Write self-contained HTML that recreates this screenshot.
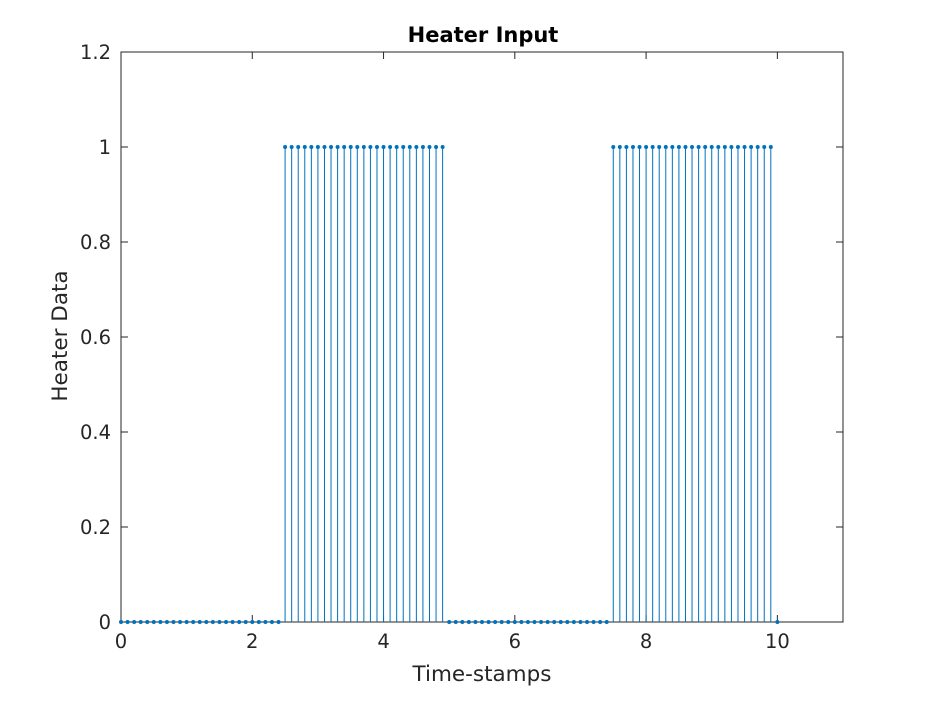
<!DOCTYPE html>
<html><head><meta charset="utf-8"><style>
body{margin:0;background:#fff;font-family:"Liberation Sans","DejaVu Sans",sans-serif}
svg text{font-family:"DejaVu Sans","Liberation Sans",sans-serif;fill:#262626}
</style></head><body>
<svg id="c" width="933" height="700"></svg>
<script>
const xStart=0, xStep=0.1;
const heaterValues=[0,0,0,0,0,0,0,0,0,0,0,0,0,0,0,0,0,0,0,0,0,0,0,0,0,
1,1,1,1,1,1,1,1,1,1,1,1,1,1,1,1,1,1,1,1,1,1,1,1,1,
0,0,0,0,0,0,0,0,0,0,0,0,0,0,0,0,0,0,0,0,0,0,0,0,0,
1,1,1,1,1,1,1,1,1,1,1,1,1,1,1,1,1,1,1,1,1,1,1,1,1,
0];
const xTicks=[0,2,4,6,8,10];
const yTicks=[0,0.2,0.4,0.6,0.8,1,1.2];
const yTickLabels=["0","0.2","0.4","0.6","0.8","1","1.2"];
const L=121,R=843,T=52,B=622;
const xs=v=>L+(v-0)/(11-0)*(R-L);
const ys=v=>B-(v-0)/(1.2-0)*(B-T);
const NS="http://www.w3.org/2000/svg";
const svg=document.getElementById('c');
function mk(t,a,p){const e=document.createElementNS(NS,t);for(const k in a)e.setAttribute(k,a[k]);(p||svg).appendChild(e);return e;}
const frame=mk('rect',{x:L,y:T,width:R-L,height:B-T,fill:'#fff',stroke:'#262626','stroke-width':1});


xTicks.forEach(v=>{const x=xs(v);
 mk('line',{x1:x,y1:B,x2:x,y2:B-7,stroke:'#262626'});mk('line',{x1:x,y1:T,x2:x,y2:T+7,stroke:'#262626'});
 const t=mk('text',{x:x,y:B+26,'text-anchor':'middle','font-size':19.5});t.textContent=v;
 
 });
yTicks.forEach((v,i)=>{const y=ys(v);
 mk('line',{x1:L,y1:y,x2:L+7,y2:y,stroke:'#262626'});mk('line',{x1:R,y1:y,x2:R-7,y2:y,stroke:'#262626'});
 const t=mk('text',{x:L-10,y:y+7,'text-anchor':'end','font-size':19.5});t.textContent=yTickLabels[i];
 
 });
const g=mk('g',{});


heaterValues.forEach((v,i)=>{const x=xs(xStart+i*xStep),y=ys(v);
 if(v!==0){const l=mk('line',{x1:x,y1:ys(0),x2:x,y2:y,stroke:'#0072bd','stroke-width':1},g);
  
  }
 const c=mk('circle',{cx:x,cy:y,r:2,fill:'#0072bd'},g);
 
 });
const tt=mk('text',{x:(L+R)/2+1,y:42,'text-anchor':'middle','font-size':21,'font-weight':'bold','style':'fill:#000'});tt.textContent='Heater Input';


const xl=mk('text',{x:(L+R)/2,y:681,'text-anchor':'middle','font-size':21.5});xl.textContent='Time-stamps';


const yl=mk('text',{x:0,y:0,'text-anchor':'middle','font-size':21.5,transform:'translate(67,336) rotate(-90)'});yl.textContent='Heater Data';


</script></body></html>
